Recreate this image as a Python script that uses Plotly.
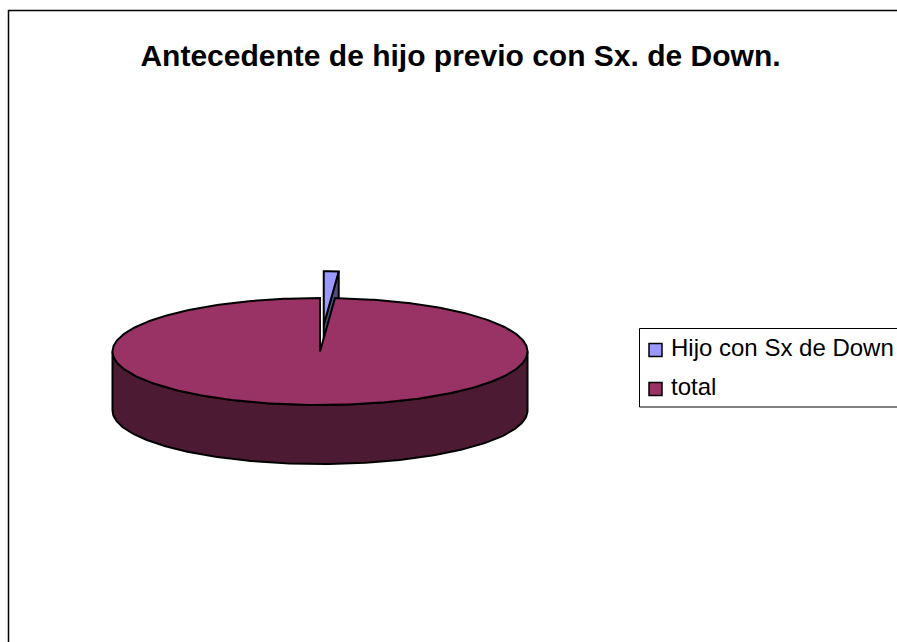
import numpy as np
import plotly.graph_objects as go

# Chart content
title_text = "Antecedente de hijo previo con Sx. de Down."
categories = ["Hijo con Sx de Down", "total"]
values = [1, 86]
explode = [0.5, 0.0]
top_colors = ["#9999FF", "#993366"]
side_colors = ["#4D4D80", "#4D1A33"]

# Canvas and projected-pie geometry, in page pixels
W, H = 897, 642
CX, CY = 320.0, 351.5
RX, RY = 207.5, 53.5
DEPTH = 59.0
EDGE = dict(color="black", width=2)


def rim(theta, shift=(0.0, 0.0)):
    """Point(s) on the tilted circle; theta runs clockwise from 12 o'clock."""
    return (CX + shift[0] + RX * np.sin(theta), CY + shift[1] - RY * np.cos(theta))


def arc(a, b, shift=(0.0, 0.0)):
    n = max(int(abs(b - a) / (2 * np.pi) * 360), 2)
    return rim(np.linspace(a, b, n), shift)


fractions = np.array(values, dtype=float) / sum(values)
bounds = np.concatenate([[0.0], np.cumsum(fractions)]) * 2 * np.pi

fig = go.Figure()


def add_poly(xs, ys, fill, name):
    fig.add_trace(go.Scatter(
        x=list(xs) + [xs[0]], y=list(ys) + [ys[0]],
        mode="lines", fill="toself", fillcolor=fill, line=EDGE,
        name=name, hoverinfo="name", showlegend=False,
    ))


# Exploded wedge: cut wall first, its top face over it
a0, a1 = bounds[0], bounds[1]
mid = (a0 + a1) / 2
off = (RX * np.sin(mid) * explode[0], -RY * np.cos(mid) * explode[0])
tip = (CX + off[0], CY + off[1])
ex, ey = rim(a1, off)
add_poly([tip[0], ex, ex, tip[0]], [tip[1], ey, ey + DEPTH, tip[1] + DEPTH],
         side_colors[0], categories[0])
ax, ay = arc(a0, a1, off)
add_poly([tip[0], *ax], [tip[1], *ay], top_colors[0], categories[0])

# Main wedge: front wall, then the top face
b0, b1 = bounds[1], bounds[2]
fx, fy = arc(np.pi / 2, 3 * np.pi / 2)
add_poly(np.concatenate([fx, fx[::-1]]), np.concatenate([fy, fy[::-1] + DEPTH]),
         side_colors[1], categories[1])
tx, ty = arc(b0, b1)
add_poly([CX, *tx], [CY, *ty], top_colors[1], categories[1])

# Chart-area frame runs off the page on the right and bottom
shapes = [dict(type="rect", x0=8.5, y0=10.5, x1=W + 40, y1=H + 40,
               line=dict(color="black", width=1.5), fillcolor="rgba(0,0,0,0)", layer="below")]

# Legend box, also cut by the page edge
shapes.append(dict(type="rect", x0=639.5, y0=328.5, x1=W + 40, y1=407,
                   line=dict(color="black", width=1), fillcolor="white", layer="above"))
legend_rows = [350, 389]
annotations = []
for cat, colour, yc in zip(categories, top_colors, legend_rows):
    shapes.append(dict(type="rect", x0=649, x1=662, y0=yc - 6.5, y1=yc + 6.5,
                       line=dict(color="black", width=1.5), fillcolor=colour, layer="above"))
    annotations.append(dict(x=669, y=yc - 3, xref="x", yref="y", text=cat, showarrow=False,
                            xanchor="left", yanchor="middle",
                            font=dict(family="Liberation Sans, Arial, sans-serif", size=24, color="black")))

fig.update_layout(
    width=W, height=H,
    margin=dict(l=0, r=0, t=0, b=0),
    paper_bgcolor="white", plot_bgcolor="white",
    showlegend=False,
    title=dict(text="<b>" + title_text + "</b>", x=460.5 / W, y=1 - 55 / H,
               xanchor="center", yanchor="middle", xref="paper", yref="paper",
               font=dict(family="Liberation Sans, Arial, sans-serif", size=30, color="black")),
    xaxis=dict(range=[0, W], visible=False, fixedrange=True),
    yaxis=dict(range=[H, 0], visible=False, fixedrange=True),
    shapes=shapes, annotations=annotations,
)

fig.write_html("out.html", config={"displayModeBar": False})
